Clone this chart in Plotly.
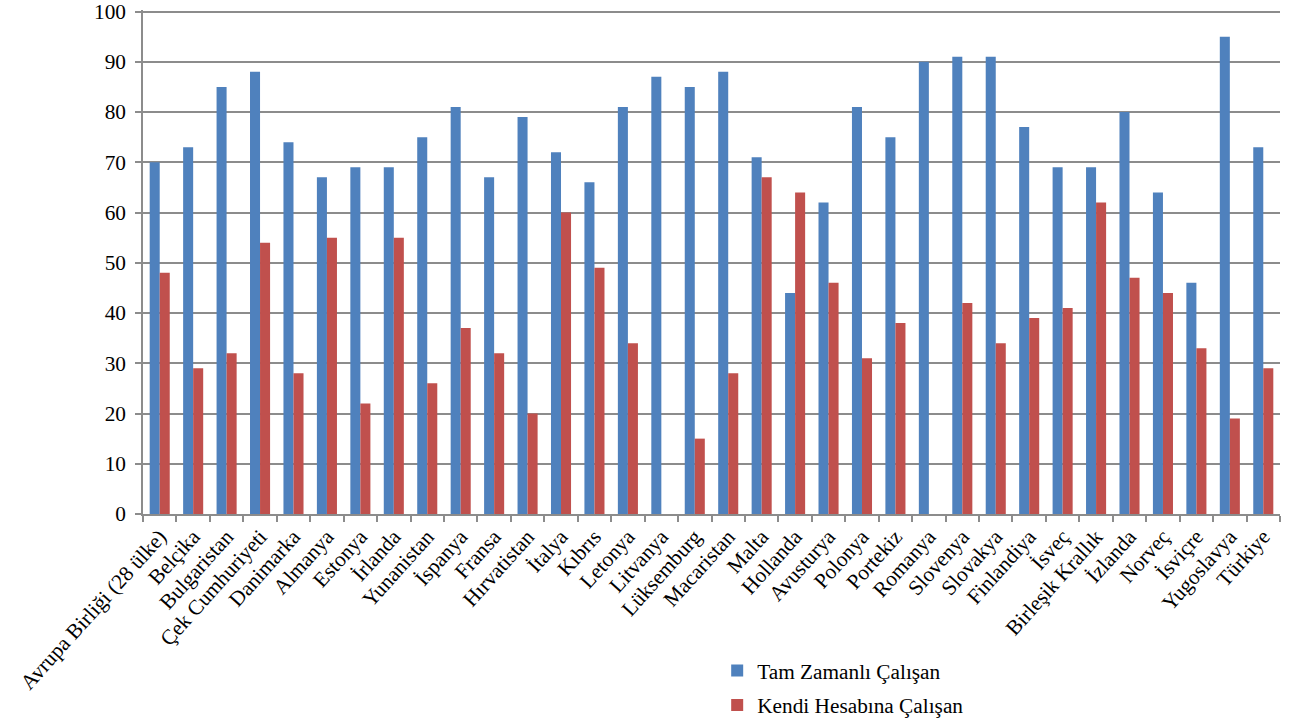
import plotly.graph_objects as go

# Ülkeler ve çalışan türüne göre oranlar (%)
countries = [
    "Avrupa Birliği (28 ülke)", "Belçika", "Bulgaristan", "Çek Cumhuriyeti",
    "Danimarka", "Almanya", "Estonya", "İrlanda", "Yunanistan", "İspanya",
    "Fransa", "Hırvatistan", "İtalya", "Kıbrıs", "Letonya", "Litvanya",
    "Lüksemburg", "Macaristan", "Malta", "Hollanda", "Avusturya", "Polonya",
    "Portekiz", "Romanya", "Slovenya", "Slovakya", "Finlandiya", "İsveç",
    "Birleşik Krallık", "İzlanda", "Norveç", "İsviçre", "Yugoslavya", "Türkiye",
]
tam_zamanli = [70, 73, 85, 88, 74, 67, 69, 69, 75, 81, 67, 79, 72, 66, 81, 87,
               85, 88, 71, 44, 62, 81, 75, 90, 91, 91, 77, 69, 69, 80, 64, 46, 95, 73]
kendi_hesabina = [48, 29, 32, 54, 28, 55, 22, 55, 26, 37, 32, 20, 60, 49, 34, None,
                  15, 28, 67, 64, 46, 31, 38, None, 42, 34, 39, 41, 62, 47, 44, 33, 19, 29]
y_ticks = [0, 10, 20, 30, 40, 50, 60, 70, 80, 90, 100]

FONT = "Liberation Serif"
FS = 21.3
GRID = "#8c8c8c"

fig = go.Figure()
fig.add_trace(go.Bar(x=countries, y=tam_zamanli, name="Tam Zamanlı Çalışan",
                     legendgroup="a",
                     marker=dict(color="#4f81bd", line=dict(width=0))))
fig.add_trace(go.Bar(x=countries, y=kendi_hesabina, name="Kendi Hesabına Çalışan",
                     legendgroup="b",
                     marker=dict(color="#c0504d", line=dict(width=0))))

fig.update_layout(
    width=1290, height=724,
    margin=dict(l=143, r=10, t=10, b=210, autoexpand=False),
    paper_bgcolor="white", plot_bgcolor="white",
    barmode="group", bargap=0.4, bargroupgap=0,
    font=dict(family=FONT, size=FS, color="#000000"),
    showlegend=True,
    legend=dict(x=0.505, y=-0.27, xanchor="left", yanchor="top",
                orientation="v", font=dict(family=FONT, size=FS, color="#000000"),
                bgcolor="rgba(0,0,0,0)", itemwidth=30, tracegroupgap=4),
)
fig.update_xaxes(
    type="category", tickangle=-48, tickson="boundaries",
    ticks="outside", ticklen=6, tickcolor=GRID, tickwidth=1.5,
    showline=True, linecolor=GRID, linewidth=1.5, automargin=False,
    showgrid=False, tickfont=dict(family=FONT, size=FS, color="#000000"),
)
fig.update_yaxes(
    range=[0, 100.3], tickvals=y_ticks, automargin=False,
    ticklabeloverflow="allow", ticklabelstandoff=5,
    ticks="outside", ticklen=6, tickcolor=GRID, tickwidth=1.5,
    showline=True, linecolor=GRID, linewidth=1.5,
    showgrid=True, gridcolor=GRID, gridwidth=1.5,
    zeroline=False, tickfont=dict(family=FONT, size=FS, color="#000000"),
)

fig.write_html("out.html")
